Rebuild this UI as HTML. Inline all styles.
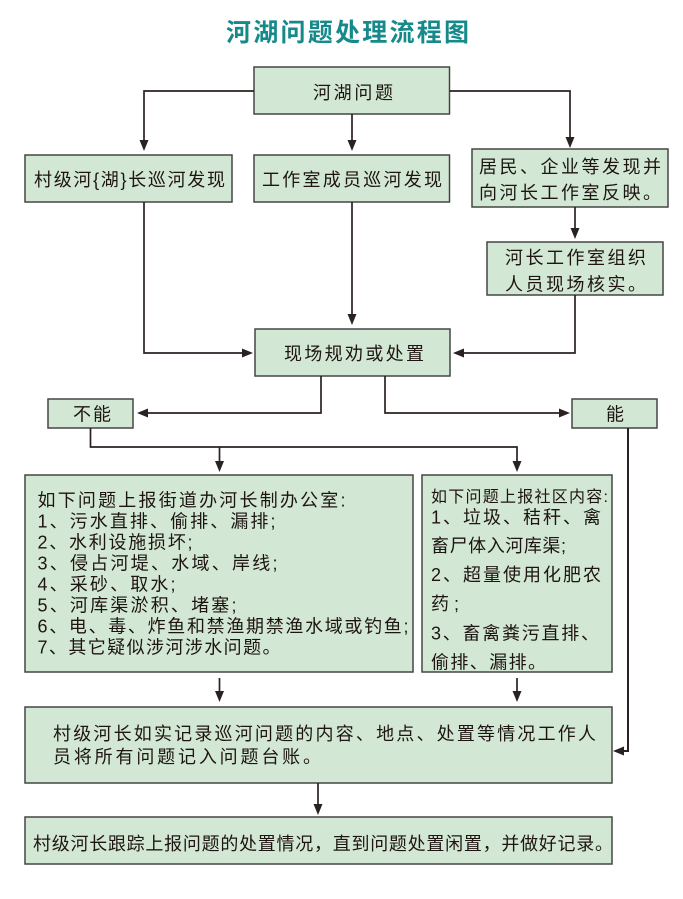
<!DOCTYPE html>
<html lang="zh-CN">
<head>
<meta charset="utf-8">
<title>河湖问题处理流程图</title>
<style>
  html,body{margin:0;padding:0;background:#fff;}
  svg{display:block;}
  .t{font-family:"Liberation Sans","Noto Sans CJK SC",sans-serif;font-size:18px;fill:#1e1512;}
  .box{fill:#d3e8d4;stroke:#454545;stroke-width:1.5;}
  .ln{fill:none;stroke:#2a2220;stroke-width:1.7;}
  .ah{fill:#2a2220;}
</style>
</head>
<body>
<svg width="683" height="899" viewBox="0 0 683 899" xmlns="http://www.w3.org/2000/svg">
  <rect x="0" y="0" width="683" height="899" fill="#ffffff"/>

  <!-- Title -->
  <text x="226" y="41" textLength="243" lengthAdjust="spacing" style="font-family:'Liberation Sans','Noto Sans CJK SC',sans-serif;font-size:25px;font-weight:bold;fill:#168a8a;">河湖问题处理流程图</text>

  <!-- Boxes -->
  <rect class="box" x="254" y="67" width="195.5" height="47"/>
  <rect class="box" x="25" y="155" width="207" height="47"/>
  <rect class="box" x="254" y="155" width="195.5" height="47"/>
  <rect class="box" x="472" y="149" width="196" height="58"/>
  <rect class="box" x="487" y="242" width="176" height="53"/>
  <rect class="box" x="255" y="329" width="195" height="47"/>
  <rect class="box" x="48" y="399" width="85" height="29"/>
  <rect class="box" x="572" y="399" width="85" height="29"/>
  <rect class="box" x="25" y="475" width="388" height="197"/>
  <rect class="box" x="422" y="475" width="190" height="197"/>
  <rect class="box" x="25" y="707" width="587" height="76"/>
  <rect class="box" x="25" y="817" width="587" height="47"/>

  <!-- Connectors -->
  <path class="ln" d="M254 91 H144 V140"/>
  <polygon class="ah" points="139.5,140 148.5,140 144,151"/>
  <path class="ln" d="M352 114 V140"/>
  <polygon class="ah" points="347.5,140 356.5,140 352,151"/>
  <path class="ln" d="M449.5 91 H570 V137"/>
  <polygon class="ah" points="565.5,137 574.5,137 570,148"/>

  <path class="ln" d="M144 202 V353 H242"/>
  <polygon class="ah" points="242,348.5 242,357.5 253,353"/>
  <path class="ln" d="M352 202 V314"/>
  <polygon class="ah" points="347.5,314 356.5,314 352,325"/>
  <path class="ln" d="M575 207 V228"/>
  <polygon class="ah" points="570.5,228 579.5,228 575,239"/>
  <path class="ln" d="M575 295 V353 H464"/>
  <polygon class="ah" points="464,348.5 464,357.5 453,353"/>

  <path class="ln" d="M321 376 V413 H148"/>
  <polygon class="ah" points="148,408.5 148,417.5 137,413"/>
  <path class="ln" d="M385 376 V413 H559"/>
  <polygon class="ah" points="559,408.5 559,417.5 570,413"/>

  <path class="ln" d="M90.5 428 V447 H517 V461"/>
  <path class="ln" d="M219.5 447 V461"/>
  <polygon class="ah" points="215,461 224,461 219.5,472"/>
  <polygon class="ah" points="512.5,461 521.5,461 517,472"/>

  <path class="ln" d="M628 428 V751 H624" style="stroke-width:2"/>
  <polygon class="ah" points="624,746.5 624,755.5 613,751"/>

  <path class="ln" d="M219.5 678 V691"/>
  <polygon class="ah" points="215,691 224,691 219.5,702"/>
  <path class="ln" d="M517 678 V691"/>
  <polygon class="ah" points="512.5,691 521.5,691 517,702"/>

  <path class="ln" d="M318 783 V804"/>
  <polygon class="ah" points="313.5,804 322.5,804 318,815"/>

  <!-- Texts -->
  <text class="t" x="313" y="99" textLength="80" lengthAdjust="spacing">河湖问题</text>
  <text class="t" x="34" y="186" textLength="191" lengthAdjust="spacing">村级河{湖}长巡河发现</text>
  <text class="t" x="262" y="186" textLength="180" lengthAdjust="spacing">工作室成员巡河发现</text>
  <text class="t" x="479" y="173" textLength="182" lengthAdjust="spacing">居民、企业等发现并</text>
  <text class="t" x="479" y="199" textLength="182" lengthAdjust="spacing">向河长工作室反映。</text>
  <text class="t" x="505" y="264" textLength="141" lengthAdjust="spacing">河长工作室组织</text>
  <text class="t" x="505" y="290.5" textLength="141" lengthAdjust="spacing">人员现场核实。</text>
  <text class="t" x="284" y="360" textLength="140" lengthAdjust="spacing">现场规劝或处置</text>
  <text class="t" x="73" y="420.5" textLength="38" lengthAdjust="spacing">不能</text>
  <text class="t" x="606" y="420.5">能</text>

  <text class="t" x="37.5" y="506.5" textLength="308" lengthAdjust="spacing">如下问题上报街道办河长制办公室:</text>
  <text class="t" x="37.5" y="527.5" textLength="238" lengthAdjust="spacing">1、污水直排、偷排、漏排;</text>
  <text class="t" x="37.5" y="548.5" textLength="155" lengthAdjust="spacing">2、水利设施损坏;</text>
  <text class="t" x="37.5" y="569.5" textLength="240" lengthAdjust="spacing">3、侵占河堤、水域、岸线;</text>
  <text class="t" x="37.5" y="590.5" textLength="138" lengthAdjust="spacing">4、采砂、取水;</text>
  <text class="t" x="37.5" y="611.5" textLength="199" lengthAdjust="spacing">5、河库渠淤积、堵塞;</text>
  <text class="t" x="37.5" y="632.5" textLength="371" lengthAdjust="spacing">6、电、毒、炸鱼和禁渔期禁渔水域或钓鱼;</text>
  <text class="t" x="37.5" y="653.5" textLength="243" lengthAdjust="spacing">7、其它疑似涉河涉水问题。</text>

  <text class="t" x="431" y="502" textLength="177" lengthAdjust="spacing" style="font-size:16px;">如下问题上报社区内容:</text>
  <text class="t" x="431" y="523.5" textLength="170" lengthAdjust="spacing">1、垃圾、秸秆、禽</text>
  <text class="t" x="431" y="552" textLength="135" lengthAdjust="spacing">畜尸体入河库渠;</text>
  <text class="t" x="431" y="581" textLength="170" lengthAdjust="spacing">2、超量使用化肥农</text>
  <text class="t" x="431" y="610" textLength="28" lengthAdjust="spacing">药;</text>
  <text class="t" x="431" y="639.5" textLength="168" lengthAdjust="spacing">3、畜禽粪污直排、</text>
  <text class="t" x="431" y="668.5" textLength="115" lengthAdjust="spacing">偷排、漏排。</text>

  <text class="t" x="53" y="740" textLength="543" lengthAdjust="spacing">村级河长如实记录巡河问题的内容、地点、处置等情况工作人</text>
  <text class="t" x="53" y="763" textLength="268" lengthAdjust="spacing">员将所有问题记入问题台账。</text>

  <text class="t" x="33" y="850" textLength="580" lengthAdjust="spacing">村级河长跟踪上报问题的处置情况，直到问题处置闲置，并做好记录。</text>
</svg>
</body>
</html>
